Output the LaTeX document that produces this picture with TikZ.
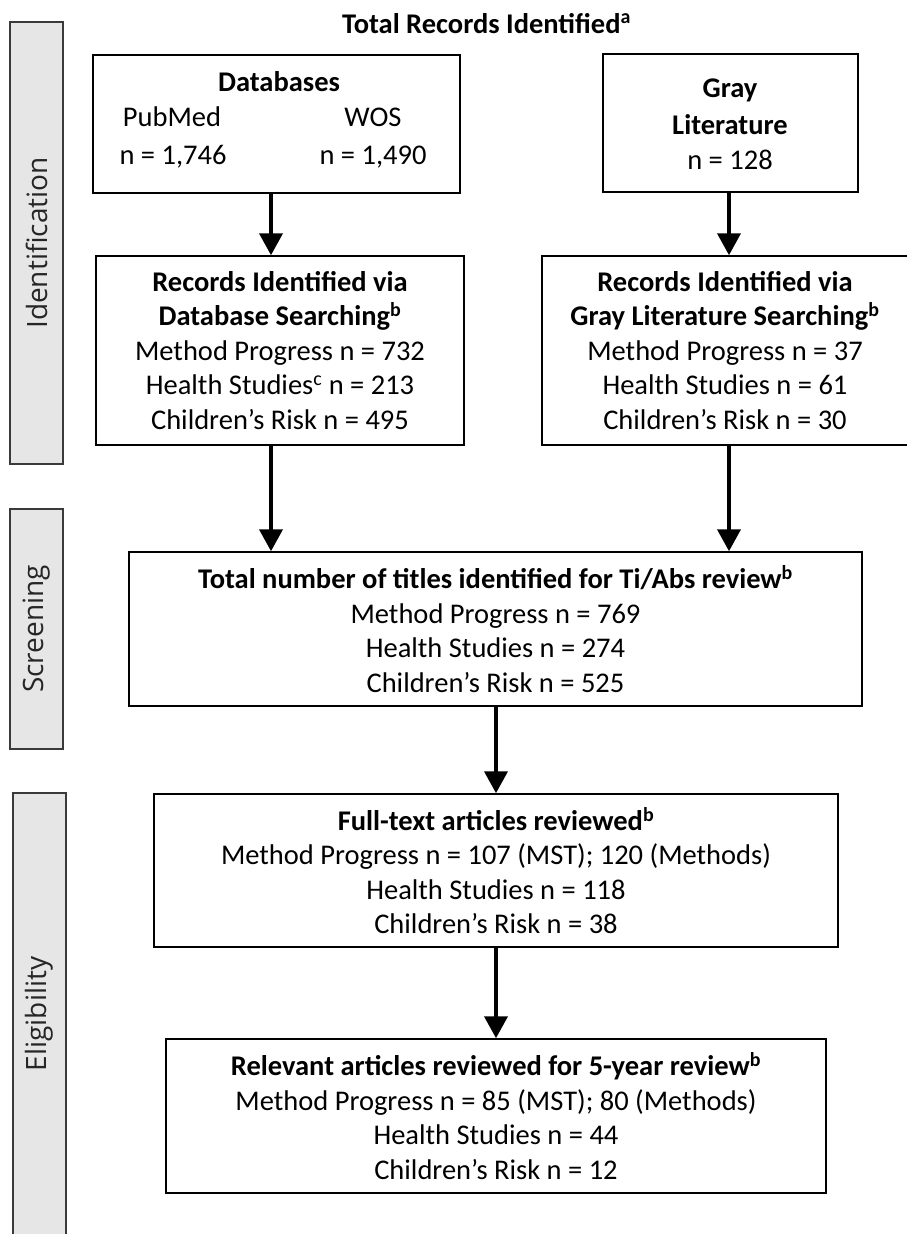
\documentclass[tikz,border=0pt]{standalone}
\usepackage{fontspec}
\setmainfont{Carlito}
\newfontfamily\sidefont{Open Sans}
\usetikzlibrary{arrows.meta}
\definecolor{barfill}{HTML}{E6E6E6}
\definecolor{barline}{HTML}{3A3A3A}
\newcommand\bxfont{\fontsize{28.5}{34.5}\selectfont}
\begin{document}
\begin{tikzpicture}[x=1pt,y=-1pt,
  box/.style={draw=black, line width=1.5pt, inner sep=0pt, align=center, font=\bxfont},
  txt/.style={inner sep=0pt, font=\bxfont},
  bar/.style={draw=barline, fill=barfill, line width=1.2pt, inner sep=0pt},
  sidelabel/.style={rotate=90, inner sep=0pt, font=\sidefont\fontsize{28}{30}\selectfont, text=black!85},
  arr/.style={line width=4pt, -{Triangle[width=23pt,length=22pt]}}]
\useasboundingbox (0,0) rectangle (907,1234);
\clip (0,0) rectangle (907,1234);

% side bars
\node[bar, minimum width=53pt, minimum height=442pt] (barI) at (36.5,243) {};
\node[sidelabel] (labI) at (barI) {Identification};
\node[bar, minimum width=53pt, minimum height=240pt] (barS) at (36.5,629) {};
\node[sidelabel] (labS) at (barS) {Screening};
\node[bar, minimum width=53pt, minimum height=446pt] (barE) at (39.5,1016) {};
\node[sidelabel] (labE) at (39.5,1014) {Eligibility};

% title
\node[txt, font=\bxfont\bfseries, anchor=base] (title) at (486.5,33) {Total Records Identified\textsuperscript{a}};

% databases box
\node[box, minimum width=367pt, minimum height=138pt] (db) at (276.5,124) {};
\node[txt, font=\bxfont\bfseries] (dbT) at (279,82) {Databases};
\node[txt] (pm) at (172,117) {PubMed};
\node[txt] (wos) at (373,117) {WOS};
\node[txt] (pmn) at (173,157) {n = 1,746};
\node[txt] (wosn) at (373,157) {n = 1,490};

% gray literature box
\node[box, minimum width=255pt, minimum height=138pt] (gl) at (730.5,123) {};
\node[txt, font=\bxfont\bfseries] (glT1) at (730,90) {Gray};
\node[txt, font=\bxfont\bfseries] (glT2) at (730,125) {Literature};
\node[txt] (gln) at (730,160) {n = 128};

% records boxes
\node[box, minimum width=368pt, minimum height=189pt] (rdb) at (280,350.5)
 {\textbf{Records Identified via}\\\textbf{Database Searching\textsuperscript{b}}\\Method Progress n = 732\\Health Studies\textsuperscript{c} n = 213\\Children’s Risk n = 495};
\node[box, minimum width=366pt, minimum height=189pt] (rgl) at (725,350.5)
 {\textbf{Records Identified via}\\\textbf{Gray Literature Searching\textsuperscript{b}}\\Method Progress n = 37\\Health Studies n = 61\\Children’s Risk n = 30};

% screening
\node[box, minimum width=733pt, minimum height=154pt] (tot) at (495.5,629)
 {\textbf{Total number of titles identified for Ti/Abs review\textsuperscript{b}}\\Method Progress n = 769\\Health Studies n = 274\\Children’s Risk n = 525};

% eligibility
\node[box, minimum width=684pt, minimum height=153pt] (full) at (496,870.5)
 {\textbf{Full-text articles reviewed\textsuperscript{b}}\\Method Progress n = 107 (MST); 120 (Methods)\\Health Studies n = 118\\Children’s Risk n = 38};
\node[box, minimum width=660pt, minimum height=154pt] (rel) at (496,1116)
 {\textbf{Relevant articles reviewed for 5-year review\textsuperscript{b}}\\Method Progress n = 85 (MST); 80 (Methods)\\Health Studies n = 44\\Children’s Risk n = 12};

% arrows
\coordinate (xA) at (271,0);
\coordinate (xB) at (729,0);
\coordinate (xC) at (496,0);
\draw[arr] (db.south -| xA) -- (rdb.north -| xA);
\draw[arr] (gl.south -| xB) -- (rgl.north -| xB);
\draw[arr] (rdb.south -| xA) -- (tot.north -| xA);
\draw[arr] (rgl.south -| xB) -- (tot.north -| xB);
\draw[arr] (tot.south -| xC) -- (full.north -| xC);
\draw[arr] (full.south -| xC) -- (rel.north -| xC);
\end{tikzpicture}
\end{document}
